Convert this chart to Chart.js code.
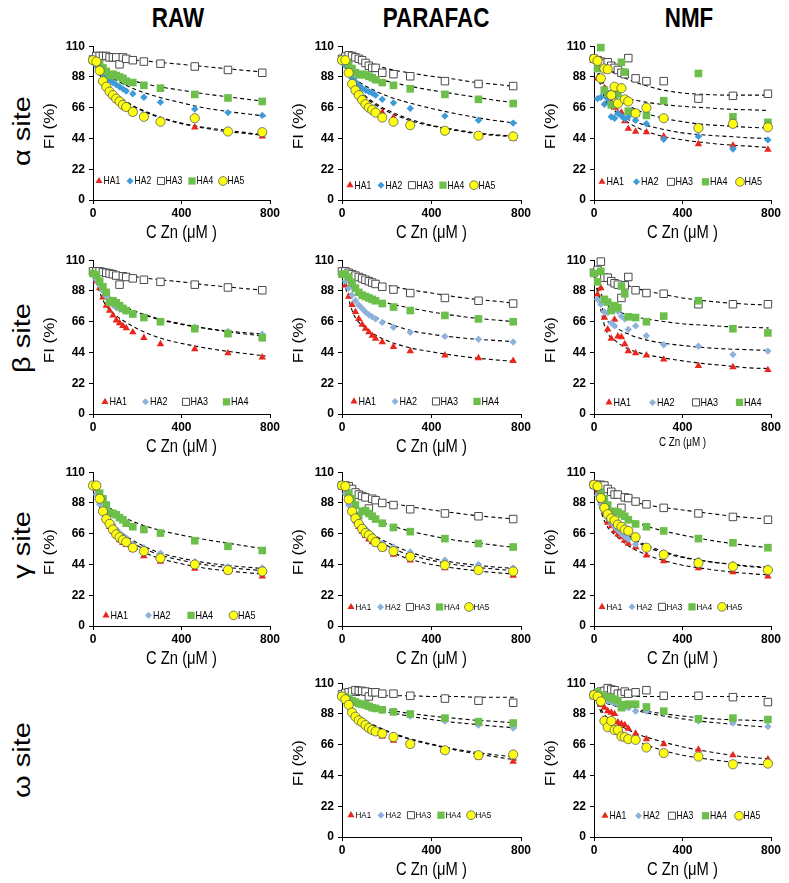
<!DOCTYPE html>
<html><head><meta charset="utf-8">
<script src="https://cdn.jsdelivr.net/npm/chart.js@4.4.1/dist/chart.umd.min.js"></script>
<style>
html,body{margin:0;padding:0;background:#fff;}
body{width:789px;height:883px;position:relative;overflow:hidden;font-family:'Liberation Sans',Arial,sans-serif;color:#000;}
.hdr{position:absolute;font-size:28px;font-weight:bold;transform:translate(-50%,-50%) scaleX(0.8);white-space:nowrap;line-height:1;}
.rowl{position:absolute;font-size:29px;transform:translate(-50%,-50%) rotate(-90deg) scaleY(0.85);white-space:nowrap;line-height:1;}
canvas{position:absolute;}
</style></head><body>
<div class="hdr" style="left:178px;top:18px">RAW</div>
<div class="hdr" style="left:436px;top:18px">PARAFAC</div>
<div class="hdr" style="left:689px;top:18px">NMF</div>
<div class="rowl" style="left:22px;top:131px">α site</div>
<div class="rowl" style="left:22px;top:338px">β site</div>
<div class="rowl" style="left:22px;top:545px">γ site</div>
<div class="rowl" style="left:22px;top:760px">ω site</div>
<script>
// ---------- DATA ----------
const concX    = [0, 15, 30, 45, 60, 75, 90, 105, 120, 135, 150, 180, 230, 305, 460, 610, 765];
const concXNMF = [0, 16, 31, 47, 62, 78, 93, 108, 124, 139, 155, 188, 237, 315, 472, 628, 786];
const fitX     = [0, 50, 100, 150, 200, 300, 400, 500, 600, 700, 780];
const fitXNMF  = [0, 50, 100, 150, 200, 300, 400, 500, 600, 700, 790];
const seriesNames = ['HA1', 'HA2', 'HA3', 'HA4', 'HA5'];
const yTicks = [0, 22, 44, 66, 88, 110];
const xTicks = [0, 400, 800];
const xTitle = 'C Zn (μM )';
const yTitle = 'FI (%)';

// alpha site
const aRaw_HA1 = [100, 98, 92, 86, 81, 77, 74, 71.5, 69.5, 67.5, 65.5, 62, 59, 56, 52, 49, 45.5];
const aRaw_HA2 = [100, 96, 92, 90, 88, 86, 84, 82.5, 81, 79.5, 78, 76, 73.5, 70, 65, 62.5, 60.5];
const aRaw_HA3 = [100.5, 103, 103, 103, 103, 102, 102, 102, 97, 102, 101, 100, 99, 97.5, 95.5, 93, 91];
const aRaw_HA4 = [100, 99, 97, 94.5, 92, 89, 90, 89, 88, 87, 85, 84, 82, 80, 75.5, 73, 70.5];
const aRaw_HA5 = [100, 99, 92.5, 85, 81, 77.5, 75, 72.5, 70.5, 68, 66.5, 63, 59.5, 56, 58.5, 49, 48.5];
const aRaw_HA1f = [100, 84, 75.5, 70, 65.5, 59, 54.5, 51.5, 49, 47.5, 46];
const aRaw_HA2f = [100, 91, 86, 82, 78.5, 73.5, 69.5, 66, 63.5, 61.5, 60];
const aRaw_HA3f = [103, 102.5, 102, 101, 100, 98.5, 97, 95.5, 94, 92.5, 91.5];
const aRaw_HA4f = [100, 94, 90, 87, 84.5, 81, 78.5, 76, 74, 72, 70.5];
const aRaw_HA5f = [100, 84, 76, 70.5, 66, 59.5, 55, 52, 50, 48, 46.5];

const aPar_HA1 = [100, 97, 91, 86, 81, 76, 72, 69, 67, 65, 63.5, 62.5, 59, 54, 49.5, 46, 44];
const aPar_HA2 = [100, 96, 91, 87, 84.5, 82, 80, 78.5, 77.5, 76.5, 75, 72, 69.5, 65.5, 60, 57, 55];
const aPar_HA3 = [101, 102.5, 103.5, 103, 102, 101, 100, 98, 96, 94.5, 94.5, 91, 90, 88.5, 85, 83, 81.5];
const aPar_HA4 = [100, 99, 97, 94, 91, 89.5, 90, 89.5, 88.5, 87.5, 86, 84, 82, 79.5, 75.5, 72, 69];
const aPar_HA5 = [100, 100, 91, 83, 78.5, 75, 71.5, 68.5, 66, 64.5, 62.5, 59, 56, 53.5, 49.5, 46, 45.5];
const aPar_HA1f = [100, 83, 74, 68, 63.5, 57, 53, 50, 47.5, 46, 45];
const aPar_HA2f = [100, 88, 82, 78, 74.5, 69.5, 65.5, 62, 59, 56.5, 55];
const aPar_HA3f = [103, 101.5, 99, 96.5, 94, 91, 88.5, 86.5, 84, 82.5, 81];
const aPar_HA4f = [100, 94, 90, 87, 85, 81.5, 78.5, 76, 73.5, 71, 69.5];
const aPar_HA5f = [100, 84, 75, 69, 64.5, 58, 53.5, 50.5, 48, 46.5, 45.5];

const aNmf_HA1 = [100, 87, 96.5, 80, 74, 70, 66, 62.5, 62.5, 56.5, 51, 49, 48.5, 45.5, 40, 39, 36];
const aNmf_HA2 = [100, 72.5, 73.5, 68.5, 72.5, 59.5, 58.5, 62, 60, 58, 59.5, 57, 54.5, 43.5, 45.5, 36.5, 43];
const aNmf_HA3 = [101, 100, 99, 98, 98.5, 96, 94.5, 93, 91, 90, 101.5, 87, 85, 85, 72.5, 74.5, 76];
const aNmf_HA4 = [101, 94, 109, 78.5, 76, 68, 74.5, 76, 98.5, 91.5, 63.5, 62, 60.5, 71, 90.5, 59.5, 55.5];
const aNmf_HA5 = [101, 99.5, 87, 94, 93.5, 75, 81, 69, 80, 72, 70.5, 62, 66, 58.5, 51.5, 54.5, 52];
const aNmf_HA1f = [100, 75, 63, 56, 51.5, 46, 43, 41, 39.5, 38.5, 37.5];
const aNmf_HA2f = [100, 72, 63, 58, 55, 51, 48, 46.5, 45.5, 44.5, 44];
const aNmf_HA3f = [100, 95, 90, 86.5, 83.5, 79, 76.5, 75.5, 75, 75, 75];
const aNmf_HA4f = [100, 82, 76, 73, 71, 68.5, 67, 66, 65, 64.5, 64];
const aNmf_HA5f = [100, 80, 73, 68, 64, 59, 56, 54, 53, 52, 51.5];

// beta site
const bRaw_HA1 = [100, 95, 90, 83.5, 77.5, 74, 70.5, 67, 65, 63, 61.5, 58.5, 54.5, 50, 46.5, 43.5, 40.5];
const bRaw_HA2 = [100, 96, 92, 88, 84, 80, 78, 76, 75, 74.5, 73.5, 71.5, 69, 66, 62, 59, 57];
const bRaw_HA3 = [102, 102, 102, 101.5, 101, 100.5, 100, 99, 92.5, 98.5, 98, 97, 96, 94.5, 92.5, 90.5, 88.5];
const bRaw_HA4 = [100.5, 99.5, 95, 91, 87, 80, 81, 79.5, 77.5, 75.5, 74, 71.5, 69, 66, 61, 57.5, 54.5];
const bRaw_HA1f = [100, 80, 71, 65.5, 61, 54.5, 50.5, 47.5, 45, 43, 41.5];
const bRaw_HA2f = [100, 87, 80.5, 76, 72.5, 67.5, 64, 61.5, 59.5, 58, 57];
const bRaw_HA3f = [102, 101, 100, 99, 98, 96, 94.5, 92.5, 91, 89.5, 88.5];
const bRaw_HA4f = [100, 88, 81, 76.5, 73, 68, 64.5, 61.5, 59, 57, 55.5];

const bPar_HA1 = [100, 92, 84, 78, 73, 68, 64, 61, 58.5, 56, 54, 51.5, 48, 45, 42, 40, 38];
const bPar_HA2 = [100, 95, 90, 85, 81, 78, 75.5, 73, 71, 69.5, 68, 65.5, 62, 58.5, 55.5, 53.5, 51.5];
const bPar_HA3 = [102, 102, 101, 100, 99, 98, 97, 96, 95, 94, 93, 91, 89, 86.5, 83, 81, 79];
const bPar_HA4 = [100, 100, 98, 94, 90, 87, 85, 84, 83, 82, 81, 79, 76.5, 74, 70.5, 68, 66];
const bPar_HA1f = [100, 72, 62, 56.5, 52.5, 47.5, 44.5, 42, 40, 38.5, 37.5];
const bPar_HA2f = [100, 82, 74.5, 69.5, 65.5, 60, 57, 55, 53.5, 52.5, 51.5];
const bPar_HA3f = [102, 99, 96.5, 94, 92, 89, 86.5, 84, 82, 80.5, 79];
const bPar_HA4f = [100, 90, 85, 82, 79.5, 76, 73, 70.5, 68.5, 67, 66];

const bNmf_HA1 = [100, 85.5, 90, 69, 60.5, 54, 67.5, 55.5, 55, 50, 45, 43.5, 42, 39, 34.5, 33.5, 31.5];
const bNmf_HA2 = [100, 82, 78.5, 73, 72.5, 65, 63, 73.5, 70, 68, 60.5, 63, 56, 49.5, 48.5, 42.5, 45];
const bNmf_HA3 = [101, 103, 109, 97.5, 97.5, 95, 93.5, 92.5, 83, 92, 98, 88.5, 86.5, 86, 78.5, 78.5, 78.5];
const bNmf_HA4 = [100.5, 94.5, 102, 82, 80, 74, 77.5, 76, 91.5, 86, 69.5, 69, 66, 70, 81, 61, 58];
const bNmf_HA1f = [100, 62, 52, 47, 44, 40.5, 38, 36, 34.5, 33, 32.5];
const bNmf_HA2f = [100, 70, 62, 57.5, 54.5, 51, 49, 47.5, 46.5, 46, 45.5];
const bNmf_HA3f = [101, 98, 95, 92, 89.5, 86, 83, 81, 79.5, 78.5, 78];
const bNmf_HA4f = [100, 80, 74, 71, 69, 66.5, 64.5, 63.5, 62.5, 62, 61.5];

// gamma site
const gRaw_HA1 = [100, 98, 90, 81.5, 75.5, 71, 67.5, 64.5, 61.5, 59.5, 58, 54.5, 50, 46, 41, 38.5, 35.5];
const gRaw_HA2 = [100, 94, 87, 82, 77.5, 75, 72.5, 69, 66.5, 64, 63, 58.5, 56, 52, 46, 42.5, 41.5];
const gRaw_HA4 = [100.5, 99.5, 95, 91, 86.5, 81, 80.5, 79.5, 77.5, 76, 73.5, 71, 69, 66.5, 61, 57, 54];
const gRaw_HA5 = [100.5, 100.5, 91, 82, 76.5, 73, 69, 65.5, 63.5, 61.5, 60, 56, 53.5, 48.5, 44, 40, 39];
const gRaw_HA1f = [100, 76, 66.5, 60, 55, 48.5, 44.5, 41.5, 39.5, 38, 37];
const gRaw_HA2f = [100, 80, 71, 64.5, 59.5, 52.5, 48.5, 45.5, 43.5, 42, 41];
const gRaw_HA4f = [100, 89, 81.5, 77, 73.5, 68.5, 65, 62, 59.5, 57, 55];
const gRaw_HA5f = [100, 78, 69, 62.5, 57.5, 51, 47, 44, 42, 40.5, 39.5];

const gPar_HA1 = [100, 98, 90, 81.5, 75.5, 71, 67.5, 64.5, 62, 60, 58.5, 55, 51, 47, 41.5, 39.5, 36];
const gPar_HA2 = [100, 94.5, 86.5, 81.5, 78, 75, 72, 69.5, 67, 65, 62, 59, 56.5, 53, 47, 44, 41.5];
const gPar_HA3 = [100.5, 100.5, 100, 98, 95.5, 94, 93, 92, 84, 91, 90, 88, 86.5, 83.5, 80.5, 78.5, 76.5];
const gPar_HA4 = [100.5, 100, 95, 91, 86.5, 79, 82, 82.5, 80.5, 78.5, 76.5, 73.5, 70.5, 67.5, 62.5, 59, 56.5];
const gPar_HA5 = [100.5, 100, 90.5, 82, 77, 73, 69.5, 66.5, 65, 62.5, 60, 56.5, 53.5, 49.5, 43.5, 40, 39];
const gPar_HA1f = [100, 75, 66, 59.5, 54.5, 48, 44, 41.5, 39.5, 38, 37];
const gPar_HA2f = [100, 80, 71, 64.5, 60, 53, 48.5, 45.5, 43.5, 42, 41];
const gPar_HA3f = [101, 96, 93, 90.5, 88.5, 85.5, 83, 81, 79, 77.5, 76.5];
const gPar_HA4f = [100, 89, 81.5, 76.5, 73, 68, 64.5, 61.5, 59.5, 57.5, 56];
const gPar_HA5f = [100, 78, 69, 62.5, 57.5, 51, 47, 44, 42, 40.5, 39.5];

const gNmf_HA1 = [100, 97, 90, 82, 74, 71.5, 68, 65.5, 63.5, 61, 59, 56.5, 50.5, 46.5, 41.5, 38.5, 35.5];
const gNmf_HA2 = [100, 93.5, 87, 82, 77, 74, 71, 68.5, 66, 64, 62, 58.5, 56, 52, 47, 44, 41.5];
const gNmf_HA3 = [101, 101, 101, 100.5, 98, 96, 94, 94, 84.5, 92, 91.5, 89, 87, 84.5, 80.5, 78, 76];
const gNmf_HA4 = [101, 100, 95, 91, 86.5, 81.5, 82, 81.5, 80, 78.5, 76, 73, 71, 68, 62.5, 59.5, 56];
const gNmf_HA5 = [101, 100, 91.5, 84.5, 80, 77, 75.5, 72.5, 71, 69, 68, 63.5, 56, 51, 45, 42.5, 40];
const gNmf_HA1f = [100, 74, 64.5, 58, 53.5, 47.5, 43.5, 41, 39, 37.5, 36.5];
const gNmf_HA2f = [100, 79, 70.5, 64.5, 59.5, 53, 49, 46.5, 44.5, 43, 42];
const gNmf_HA3f = [101, 96, 93, 90.5, 88, 85, 83, 81, 79, 77.5, 76.5];
const gNmf_HA4f = [100, 89, 81.5, 77, 73.5, 68.5, 65, 62, 59.5, 57.5, 56];
const gNmf_HA5f = [100, 80, 71.5, 65.5, 60.5, 54, 49.5, 46.5, 44.5, 42.5, 41.5];

// omega site
const wPar_HA1 = [100.5, 98, 94, 90, 86, 83, 81, 79, 77, 75.5, 74.5, 72, 69, 65.5, 61, 57, 54];
const wPar_HA2 = [101, 100, 98.5, 97, 96, 95, 94.5, 93.5, 93, 92, 91.5, 90.5, 89.5, 86.5, 83, 80, 78];
const wPar_HA3 = [102, 103, 103.5, 104, 105, 104.5, 104.5, 104, 100.5, 103.5, 103.5, 102.5, 102.5, 101, 99, 97.5, 96];
const wPar_HA4 = [101, 100.5, 99, 97.5, 96.5, 95.5, 95, 94.5, 93.5, 92.5, 92, 91, 89.5, 88, 85, 82.5, 81.5];
const wPar_HA5 = [100.5, 98.5, 94.5, 89, 86, 83.5, 82, 80, 78, 76.5, 75.5, 74, 71.5, 66.5, 62, 58.5, 59];
const wPar_HA1f = [100, 88.5, 83, 79, 75.5, 70, 66, 62.5, 59.5, 57, 55];
const wPar_HA2f = [100, 96, 93.5, 91.5, 89.5, 86.5, 84, 82, 80.5, 79, 78];
const wPar_HA3f = [102, 101.5, 101.5, 101.5, 101, 101, 100.5, 100.5, 100, 100, 100];
const wPar_HA4f = [100, 96.5, 94.5, 92.5, 91, 88.5, 86.5, 85, 83.5, 82.5, 81.5];
const wPar_HA5f = [100, 89, 83.5, 79.5, 76, 70.5, 66.5, 63, 60.5, 58.5, 57];

const wNmf_HA1 = [100.5, 99, 94.5, 92.5, 90, 89, 88, 82, 81, 80, 77.5, 74, 70, 66.5, 62.5, 58.5, 55.5];
const wNmf_HA2 = [101, 100, 99, 98.5, 97.5, 96.5, 96, 95, 94.5, 92.5, 92.5, 90, 90, 89, 83, 81.5, 79];
const wNmf_HA3 = [101.5, 103, 104, 104.5, 106.5, 105.5, 105, 102.5, 102.5, 104, 102.5, 103.5, 105, 101, 101, 100, 96.5];
const wNmf_HA4 = [102, 103.5, 101.5, 100.5, 100, 99.5, 98.5, 97.5, 92.5, 94.5, 95, 95, 93, 90, 84.5, 85, 84];
const wNmf_HA5 = [101.5, 100.5, 97, 83, 78.5, 83, 76.5, 76.5, 72, 71.5, 70, 69.5, 64, 60, 57.5, 52, 52.5];
const wNmf_HA1f = [100, 87, 81.5, 77, 73.5, 68.5, 64.5, 61.5, 59, 57, 56];
const wNmf_HA2f = [100.5, 96, 93.5, 91.5, 90, 87, 84.5, 82.5, 81, 79.5, 78.5];
const wNmf_HA3f = [101, 101, 100.5, 100.5, 100.5, 100.5, 100.5, 100.5, 100.5, 100.5, 100.5];
const wNmf_HA4f = [100.5, 97, 94.5, 92.5, 91, 88.5, 86.5, 85, 84, 83.5, 83];
const wNmf_HA5f = [100.5, 84, 77, 72, 68, 62.5, 58.5, 56, 54, 52.5, 51.5];

// ---------- LAYOUT / STYLE ----------
const BFAM = '"Liberation Sans", Arial, sans-serif';
Chart.defaults.font.family = BFAM;
const SQZ = 0.82;   // horizontal squeeze of the original lettering

const BLUE_D = '#3d9bd9', BLUE_L = '#8db3dc';
const STY = {
  HA1: {ps: 'triangle', r: 4.3, bg: '#e8261c', bc: '#e8261c', bw: 0},
  HA2: {ps: 'rectRot', r: 3.7, bg: null, bc: null, bw: 0},
  HA3: {ps: 'rect', r: 5.3, bg: '#ffffff', bc: '#4a4a4a', bw: 1},
  HA4: {ps: 'rect', r: 5.4, bg: '#6dbf4b', bc: '#6dbf4b', bw: 0},
  HA5: {ps: 'circle', r: 4.6, bg: '#ffff10', bc: '#5a5a5a', bw: 0.8}
};

const COLS = [[93, 270], [342, 521], [594, 771]];
const ROWS = [45, 259, 471, 682];
const PH = 155;

const panels = [
  {c:0, r:0, nmf:false, blue:BLUE_D, leg:{y:13.6, x0:6, dx:31, fs:10.5},
   s:{HA1:[aRaw_HA1,aRaw_HA1f],HA2:[aRaw_HA2,aRaw_HA2f],HA3:[aRaw_HA3,aRaw_HA3f],HA4:[aRaw_HA4,aRaw_HA4f],HA5:[aRaw_HA5,aRaw_HA5f]}},
  {c:1, r:0, nmf:false, blue:BLUE_D, leg:{y:10.6, x0:8, dx:31, fs:10.5},
   s:{HA1:[aPar_HA1,aPar_HA1f],HA2:[aPar_HA2,aPar_HA2f],HA3:[aPar_HA3,aPar_HA3f],HA4:[aPar_HA4,aPar_HA4f],HA5:[aPar_HA5,aPar_HA5f]}},
  {c:2, r:0, nmf:true, blue:BLUE_D, leg:{y:13, x0:8, dx:34.5, fs:11},
   s:{HA1:[aNmf_HA1,aNmf_HA1f],HA2:[aNmf_HA2,aNmf_HA2f],HA3:[aNmf_HA3,aNmf_HA3f],HA4:[aNmf_HA4,aNmf_HA4f],HA5:[aNmf_HA5,aNmf_HA5f]}},
  {c:0, r:1, nmf:false, blue:BLUE_L, leg:{y:8.7, x0:12, dx:40.5, fs:11},
   s:{HA1:[bRaw_HA1,bRaw_HA1f],HA2:[bRaw_HA2,bRaw_HA2f],HA3:[bRaw_HA3,bRaw_HA3f],HA4:[bRaw_HA4,bRaw_HA4f]}},
  {c:1, r:1, nmf:false, blue:BLUE_L, leg:{y:9, x0:12, dx:41, fs:11},
   s:{HA1:[bPar_HA1,bPar_HA1f],HA2:[bPar_HA2,bPar_HA2f],HA3:[bPar_HA3,bPar_HA3f],HA4:[bPar_HA4,bPar_HA4f]}},
  {c:2, r:1, nmf:true, blue:BLUE_L, leg:{y:8.3, x0:15, dx:43.5, fs:11}, smallTitle:true,
   s:{HA1:[bNmf_HA1,bNmf_HA1f],HA2:[bNmf_HA2,bNmf_HA2f],HA3:[bNmf_HA3,bNmf_HA3f],HA4:[bNmf_HA4,bNmf_HA4f]}},
  {c:0, r:2, nmf:false, blue:BLUE_L, leg:{y:7.6, x0:13, dx:42.5, fs:11},
   s:{HA1:[gRaw_HA1,gRaw_HA1f],HA2:[gRaw_HA2,gRaw_HA2f],HA4:[gRaw_HA4,gRaw_HA4f],HA5:[gRaw_HA5,gRaw_HA5f]}},
  {c:1, r:2, nmf:false, blue:BLUE_L, leg:{y:13.6, x0:9, dx:29.5, fs:9.8},
   s:{HA1:[gPar_HA1,gPar_HA1f],HA2:[gPar_HA2,gPar_HA2f],HA3:[gPar_HA3,gPar_HA3f],HA4:[gPar_HA4,gPar_HA4f],HA5:[gPar_HA5,gPar_HA5f]}},
  {c:2, r:2, nmf:true, blue:BLUE_L, leg:{y:13.7, x0:8, dx:30, fs:9.8},
   s:{HA1:[gNmf_HA1,gNmf_HA1f],HA2:[gNmf_HA2,gNmf_HA2f],HA3:[gNmf_HA3,gNmf_HA3f],HA4:[gNmf_HA4,gNmf_HA4f],HA5:[gNmf_HA5,gNmf_HA5f]}},
  {c:1, r:3, nmf:false, blue:BLUE_L, leg:{y:15.6, x0:9, dx:30, fs:9.8},
   s:{HA1:[wPar_HA1,wPar_HA1f],HA2:[wPar_HA2,wPar_HA2f],HA3:[wPar_HA3,wPar_HA3f],HA4:[wPar_HA4,wPar_HA4f],HA5:[wPar_HA5,wPar_HA5f]}},
  {c:2, r:3, nmf:true, blue:BLUE_L, leg:{y:15.2, x0:11, dx:33.5, fs:10.5},
   s:{HA1:[wNmf_HA1,wNmf_HA1f],HA2:[wNmf_HA2,wNmf_HA2f],HA3:[wNmf_HA3,wNmf_HA3f],HA4:[wNmf_HA4,wNmf_HA4f],HA5:[wNmf_HA5,wNmf_HA5f]}}
];

const YW = 52, XH = 44, PT = 10, PR = 16;

function styleOf(key, blue){
  const s = Object.assign({}, STY[key]);
  if (key === 'HA2') { s.bg = blue; s.bc = blue; }
  return s;
}

// legend inside the plot + squeezed axis titles
const panelText = {
  id: 'panelText',
  afterDraw(chart, args, o){
    const ctx = chart.ctx, area = chart.chartArea, ys = chart.scales.y;
    ctx.save();
    // legend
    const py = ys.getPixelForValue(o.legY);
    o.keys.forEach((k, i) => {
      const st = styleOf(k, o.blue);
      const px = area.left + o.x0 + i * o.dx;
      ctx.fillStyle = st.bg; ctx.strokeStyle = st.bc; ctx.lineWidth = st.bw;
      Chart.helpers.drawPoint(ctx, {pointStyle: st.ps, radius: st.r * 0.95, borderWidth: st.bw, rotation: 0}, px, py);
      ctx.save();
      ctx.translate(px + 4.5, py + 0.5);
      ctx.scale(SQZ, 1);
      ctx.fillStyle = '#000';
      ctx.font = o.fs + 'px ' + BFAM;
      ctx.textAlign = 'left'; ctx.textBaseline = 'middle';
      ctx.fillText(k, 0, 0);
      ctx.restore();
    });
    // x title
    ctx.save();
    ctx.translate((area.left + area.right) / 2, area.bottom + (o.small ? 29 : 33));
    ctx.scale(SQZ, 1);
    ctx.fillStyle = '#000';
    ctx.font = (o.small ? 12 : 18) + 'px ' + BFAM;
    ctx.textAlign = 'center'; ctx.textBaseline = 'middle';
    ctx.fillText(xTitle, 0, 0);
    ctx.restore();
    // y title
    ctx.save();
    ctx.translate(area.left - 43, (area.top + area.bottom) / 2 + 3);
    ctx.rotate(-Math.PI / 2);
    ctx.scale(1, SQZ);
    ctx.fillStyle = '#000';
    ctx.font = '17px ' + BFAM;
    ctx.textAlign = 'center'; ctx.textBaseline = 'middle';
    ctx.fillText(yTitle, 0, 0);
    ctx.restore();
    ctx.restore();
  }
};

panels.forEach(p => {
  const L = COLS[p.c][0], R = COLS[p.c][1], T = ROWS[p.r];
  const W = R - L;
  const cv = document.createElement('canvas');
  const cw = YW + W + PR, ch = PT + PH + XH;
  cv.width = cw; cv.height = ch;
  cv.style.left = (L - YW) + 'px'; cv.style.top = (T - PT) + 'px';
  cv.style.width = cw + 'px'; cv.style.height = ch + 'px';
  document.body.appendChild(cv);
  const xs = p.nmf ? concXNMF : concX;
  const fx = p.nmf ? fitXNMF : fitX;
  const keys = Object.keys(p.s);
  const datasets = [];
  keys.forEach(k => {
    const idx = seriesNames.indexOf(k);
    const st = styleOf(k, p.blue);
    const vals = p.s[k][0], fits = p.s[k][1];
    datasets.push({
      label: k + ' fit',
      data: fx.map((x, i) => ({x: x, y: fits[i]})),
      showLine: true, pointRadius: 0, borderColor: '#000', borderWidth: 1.1,
      borderDash: [4, 3], cubicInterpolationMode: 'monotone', fill: false, order: 20
    });
    datasets.push({
      label: k,
      data: xs.map((x, i) => ({x: x, y: vals[i]})),
      showLine: false, pointStyle: st.ps, pointRadius: st.r,
      backgroundColor: st.bg, borderColor: st.bc, borderWidth: st.bw,
      pointBackgroundColor: st.bg, pointBorderColor: st.bc, pointBorderWidth: st.bw,
      clip: false, order: 6 - idx
    });
  });
  new Chart(cv, {
    type: 'scatter',
    data: {datasets},
    plugins: [panelText],
    options: {
      responsive: false, animation: false, devicePixelRatio: 1, events: [],
      layout: {padding: {left: 0, right: PR, top: PT, bottom: 0}},
      plugins: {legend: {display: false}, tooltip: {enabled: false},
        panelText: {legY: p.leg.y, x0: p.leg.x0, dx: p.leg.dx, fs: p.leg.fs, keys: keys, blue: p.blue, small: !!p.smallTitle}},
      scales: {
        x: {type: 'linear', min: xTicks[0], max: xTicks[xTicks.length - 1], position: 'bottom',
          afterFit(s){ s.height = XH; },
          afterBuildTicks(s){ s.ticks = xTicks.map(v => ({value: v})); },
          ticks: {font: {family: BFAM, size: 12, weight: 'bold'}, color: '#000', padding: 2, maxRotation: 0, autoSkip: false},
          grid: {display: true, drawOnChartArea: false, drawTicks: true, tickLength: 4, color: '#000', lineWidth: 1},
          border: {display: true, color: '#000', width: 1},
          title: {display: false}
        },
        y: {type: 'linear', min: yTicks[0], max: yTicks[yTicks.length - 1],
          afterFit(s){ s.width = YW; },
          afterBuildTicks(s){ s.ticks = yTicks.map(v => ({value: v})); },
          ticks: {font: {family: BFAM, size: 12, weight: 'bold'}, color: '#000', padding: 4, autoSkip: false},
          grid: {display: true, drawOnChartArea: false, drawTicks: true, tickLength: 4, color: '#000', lineWidth: 1},
          border: {display: true, color: '#000', width: 1},
          title: {display: false}
        }
      }
    }
  });
});
</script>
</body></html>
